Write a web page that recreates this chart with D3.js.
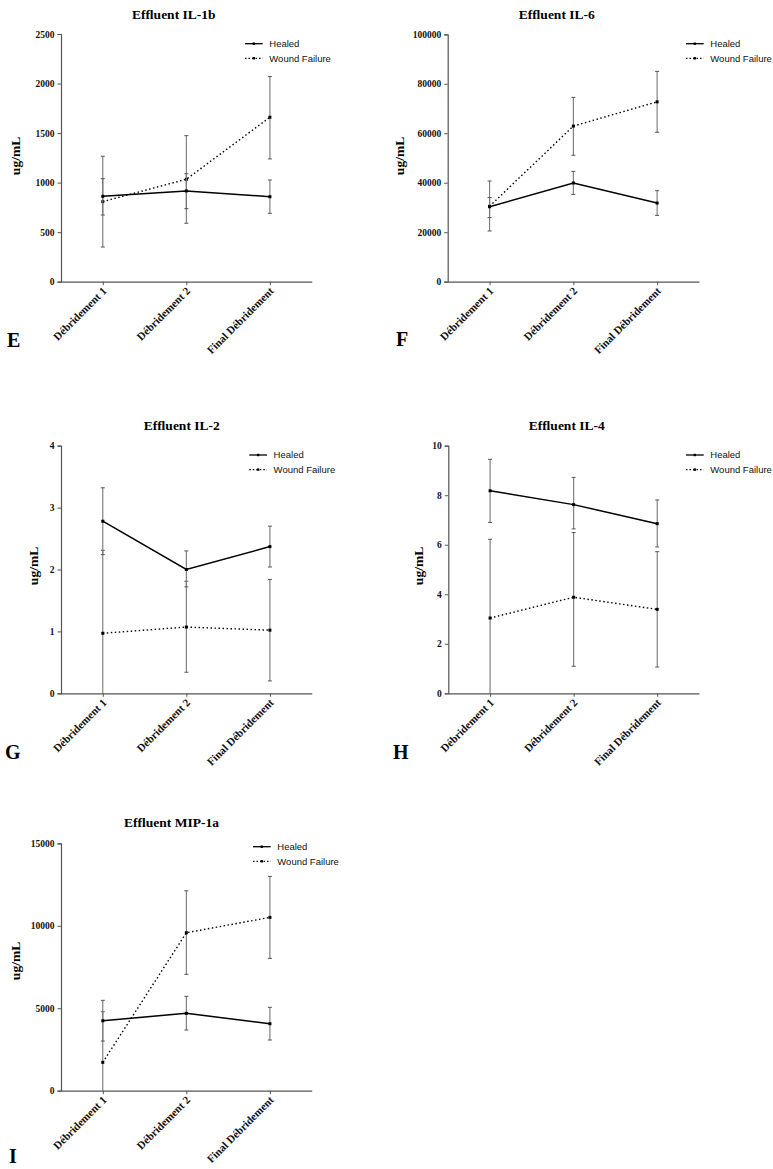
<!DOCTYPE html>
<html><head><meta charset="utf-8">
<script src="https://cdn.jsdelivr.net/npm/d3@7"></script>
<style>body{margin:0;background:#fff}svg{display:block}</style>
</head><body>
<svg id="c" width="773" height="1169"></svg>
<script>
// ---------- data ----------
const categories = ["Débridement 1", "Débridement 2", "Final Débridement"];
const seriesNames = ["Healed", "Wound Failure"];

// IL-1b
const il1bTicks = [0, 500, 1000, 1500, 2000, 2500];
const il1bHealed = [862, 916, 858];
const il1bHealedHi = [1040, 1090, 1027];
const il1bHealedLo = [673, 737, 690];
const il1bWound = [808, 1034, 1660];
const il1bWoundHi = [1266, 1474, 2070];
const il1bWoundLo = [350, 590, 1239];

// IL-6
const il6Ticks = [0, 20000, 40000, 60000, 80000, 100000];
const il6Healed = [30300, 39900, 31800];
const il6HealedHi = [34000, 44600, 36800];
const il6HealedLo = [25900, 35300, 26800];
const il6Wound = [30500, 62900, 72700];
const il6WoundHi = [40700, 74500, 85000];
const il6WoundLo = [20500, 51100, 60400];

// IL-2
const il2Ticks = [0, 1, 2, 3, 4];
const il2Healed = [2.78, 2.00, 2.37];
const il2HealedHi = [3.32, 2.30, 2.70];
const il2HealedLo = [2.24, 1.72, 2.04];
const il2Wound = [0.97, 1.07, 1.02];
const il2WoundHi = [2.31, 1.81, 1.84];
const il2WoundLo = [-0.37, 0.34, 0.20];

// IL-4
const il4Ticks = [0, 2, 4, 6, 8, 10];
const il4Healed = [8.18, 7.62, 6.85];
const il4HealedHi = [9.45, 8.72, 7.81];
const il4HealedLo = [6.90, 6.64, 5.91];
const il4Wound = [3.04, 3.88, 3.39];
const il4WoundHi = [6.22, 6.49, 5.72];
const il4WoundLo = [-0.14, 1.09, 1.06];

// MIP-1a
const mipTicks = [0, 5000, 10000, 15000];
const mipHealed = [4242, 4691, 4061];
const mipHealedHi = [5479, 5721, 5055];
const mipHealedLo = [3012, 3679, 3073];
const mipWound = [1721, 9576, 10509];
const mipWoundHi = [4788, 12121, 12994];
const mipWoundLo = [-1346, 7055, 8024];

// ---------- layout ----------
const panels = [
  {title:"Effluent IL-1b", letter:"E", ticks:il1bTicks,
   h:[il1bHealed, il1bHealedLo, il1bHealedHi], w:[il1bWound, il1bWoundLo, il1bWoundHi],
   x0:61, x1:311.7, yTop:34, yBot:281.7, tx:173.7, ty:18.5, lx:15.5, ly:156, gx:245, gy:43.7, ex:7, ey:347},
  {title:"Effluent IL-6", letter:"F", ticks:il6Ticks,
   h:[il6Healed, il6HealedLo, il6HealedHi], w:[il6Wound, il6WoundLo, il6WoundHi],
   x0:447.7, x1:699, yTop:34.3, yBot:281.7, tx:556.7, ty:18.5, lx:399, ly:156, gx:686, gy:43.7, ex:396, ey:346},
  {title:"Effluent IL-2", letter:"G", ticks:il2Ticks,
   h:[il2Healed, il2HealedLo, il2HealedHi], w:[il2Wound, il2WoundLo, il2WoundHi],
   x0:61, x1:311.7, yTop:445.7, yBot:693.3, tx:181.7, ty:429.5, lx:33, ly:566, gx:249.3, gy:455, ex:5, ey:759},
  {title:"Effluent IL-4", letter:"H", ticks:il4Ticks,
   h:[il4Healed, il4HealedLo, il4HealedHi], w:[il4Wound, il4WoundLo, il4WoundHi],
   x0:448.3, x1:699, yTop:445.7, yBot:693.3, tx:566.7, ty:429.5, lx:418.3, ly:566, gx:686, gy:455, ex:393, ey:759},
  {title:"Effluent MIP-1a", letter:"I", ticks:mipTicks,
   h:[mipHealed, mipHealedLo, mipHealedHi], w:[mipWound, mipWoundLo, mipWoundHi],
   x0:61, x1:311.7, yTop:843.3, yBot:1090.7, tx:171.5, ty:827, lx:15.5, ly:961, gx:253, gy:846.7, ex:9, ey:1163}
];

const serif = "'Liberation Serif','Times New Roman',serif";
const sans = "'Liberation Sans',Arial,sans-serif";
const svg = d3.select("#c");

panels.forEach(p => {
  const g = svg.append("g");
  const yMax = p.ticks[p.ticks.length - 1];
  const x = d3.scalePoint().domain(categories).range([p.x0, p.x1]).padding(0.5);
  const y = d3.scaleLinear().domain([0, yMax]).range([p.yBot, p.yTop]);

  // title
  g.append("text").attr("x", p.tx).attr("y", p.ty).attr("text-anchor", "middle")
    .style("font-family", serif).style("font-weight", "bold").style("font-size", "13.5px")
    .text(p.title);

  // y axis
  const ya = g.append("g").attr("transform", `translate(${p.x0},0)`)
    .call(d3.axisLeft(y).tickValues(p.ticks).tickFormat(d3.format("d")).tickSize(3.5).tickPadding(3));
  ya.select(".domain").attr("stroke", "#555").attr("stroke-width", 1.2);
  ya.selectAll(".tick line").attr("stroke", "#555");
  ya.selectAll("text").style("font-family", serif).style("font-weight", "bold")
    .style("font-size", "9.5px").attr("fill", "#111");

  // x axis
  const xa = g.append("g").attr("transform", `translate(0,${p.yBot})`)
    .call(d3.axisBottom(x).tickSize(3.5).tickSizeOuter(0));
  xa.select(".domain").attr("stroke", "#555").attr("stroke-width", 1.2);
  xa.selectAll(".tick line").attr("stroke", "#555");
  xa.selectAll("text")
    .attr("text-anchor", "end").attr("dy", null).attr("y", null)
    .attr("transform", "translate(4,10) rotate(-45)")
    .style("font-family", serif).style("font-weight", "bold").style("font-size", "11px")
    .attr("fill", "#111");

  // y label
  g.append("text").attr("transform", `translate(${p.lx},${p.ly}) rotate(-90)`)
    .attr("text-anchor", "middle").attr("dy", "0.35em")
    .style("font-family", serif).style("font-weight", "bold").style("font-size", "13.5px")
    .text("ug/mL");

  // panel letter
  g.append("text").attr("x", p.ex).attr("y", p.ey)
    .style("font-family", serif).style("font-weight", "bold").style("font-size", "20px")
    .text(p.letter);

  const clampY = v => y(Math.max(0, v));

  const drawSeries = (s, dash) => {
    const [mean, lo, hi] = s;
    // error bars
    categories.forEach((c, i) => {
      const cx = x(c);
      g.append("line").attr("x1", cx).attr("x2", cx).attr("y1", clampY(lo[i])).attr("y2", y(hi[i]))
        .attr("stroke", "#777").attr("stroke-width", 1.1);
      g.append("line").attr("x1", cx - 2).attr("x2", cx + 2).attr("y1", y(hi[i])).attr("y2", y(hi[i]))
        .attr("stroke", "#555").attr("stroke-width", 1);
      if (lo[i] > 0)
        g.append("line").attr("x1", cx - 2).attr("x2", cx + 2).attr("y1", y(lo[i])).attr("y2", y(lo[i]))
          .attr("stroke", "#555").attr("stroke-width", 1);
    });
    const line = d3.line().x((d, i) => x(categories[i])).y(d => y(d));
    g.append("path").datum(mean).attr("d", line).attr("fill", "none")
      .attr("stroke", "#000").attr("stroke-width", dash ? 1.4 : 1.5)
      .attr("stroke-dasharray", dash ? "1.5,2.5" : null);
    g.selectAll(null).data(mean).enter().append("rect")
      .attr("x", (d, i) => x(categories[i]) - 1.5).attr("y", d => y(d) - 1.5)
      .attr("width", 3).attr("height", 3).attr("fill", "#000");
  };
  drawSeries(p.w, true);
  drawSeries(p.h, false);

  // legend
  seriesNames.forEach((name, i) => {
    const ly = p.gy + i * 14.6;
    g.append("line").attr("x1", p.gx).attr("x2", p.gx + 17.7).attr("y1", ly).attr("y2", ly)
      .attr("stroke", "#000").attr("stroke-width", i ? 1.2 : 1.3)
      .attr("stroke-dasharray", i ? "1.5,2" : null);
    g.append("rect").attr("x", p.gx + 7.6).attr("y", ly - 1.2).attr("width", 2.4).attr("height", 2.4)
      .attr("fill", "#000");
    g.append("text").attr("x", p.gx + 24.3).attr("y", ly).attr("dy", "0.35em")
      .style("font-family", sans).style("font-size", "9.5px").attr("fill", "#111")
      .text(name);
  });
});
</script>
</body></html>
